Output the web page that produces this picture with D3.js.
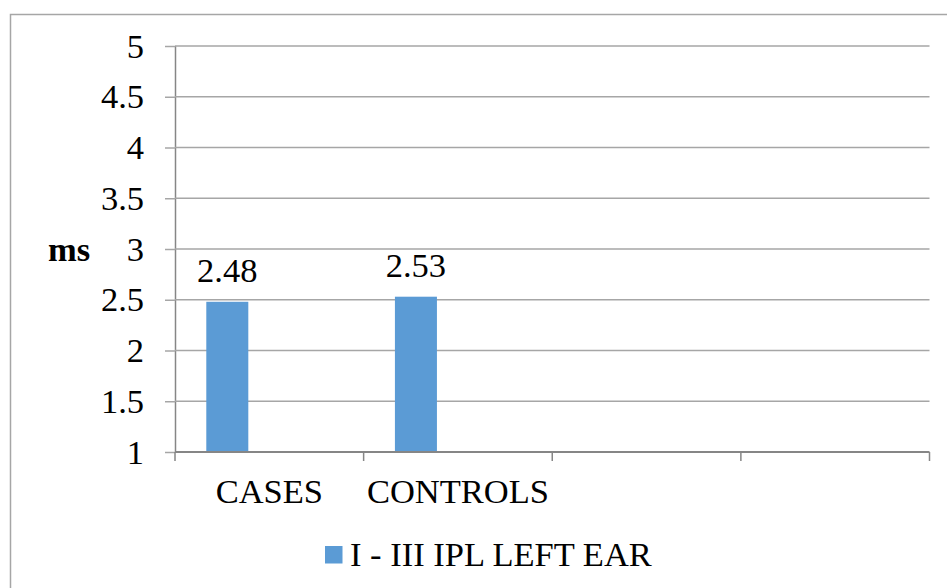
<!DOCTYPE html>
<html>
<head>
<meta charset="utf-8">
<script src="https://cdn.jsdelivr.net/npm/d3@7"></script>
<style>
  html, body { margin: 0; padding: 0; background: #fff; }
  svg { display: block; }
  text { font-family: "Liberation Serif", "Times New Roman", serif; fill: #000; }
</style>
</head>
<body>
<svg id="chart" width="947" height="588"></svg>
<script>
// Chart data
const categories = ["CASES", "CONTROLS", "", ""];
const seriesName = "I - III IPL LEFT EAR";
const seriesValues = [2.48, 2.53, null, null];
const yTicks = [1, 1.5, 2, 2.5, 3, 3.5, 4, 4.5, 5];
const yLabel = "ms";

const W = 947, H = 588;
const plot = { left: 175, right: 929.5, top: 46, bottom: 452 };
const barColor = "#5b9bd5";
const gridColor = "#a6a6a6";
const axisColor = "#868686";
const fontSize = 34.5;
const serif = "'Liberation Serif', 'Times New Roman', serif";

const svg = d3.select("#chart");

// Outer chart frame
svg.append("rect")
  .attr("x", 10.5).attr("y", 14.5)
  .attr("width", 960).attr("height", 600)
  .attr("fill", "#fff")
  .attr("stroke", gridColor).attr("stroke-width", 1.5);

const x = d3.scaleBand()
  .domain(d3.range(categories.length))
  .range([plot.left, plot.right])
  .padding(0);

// Each category holds a cluster of three slots; the series uses the first
const slot = d3.scaleBand()
  .domain([0, 1, 2])
  .range([0, x.bandwidth()])
  .paddingInner(0)
  .paddingOuter(0.745);

const y = d3.scaleLinear().domain([1, 5]).range([plot.bottom, plot.top]);

// Y axis with tick marks
const yAxis = d3.axisLeft(y)
  .tickValues(yTicks)
  .tickSize(10)
  .tickFormat(d3.format("~g"));

const gy = svg.append("g")
  .attr("transform", `translate(${plot.left},0)`)
  .call(yAxis);
gy.select(".domain").attr("stroke", axisColor).attr("stroke-width", 1.5)
  .attr("d", `M0.5,${plot.top}V${plot.bottom}`);
gy.selectAll(".tick line").attr("stroke", gridColor).attr("stroke-width", 1.5);
gy.selectAll(".tick text")
  .attr("x", -31)
  .attr("dy", null)
  .attr("y", 11)
  .style("font-size", fontSize + "px")
  .style("font-family", serif)
  .attr("fill", "#000");

// Horizontal gridlines
svg.append("g")
  .selectAll("line")
  .data(yTicks.filter(t => t > 1))
  .join("line")
  .attr("x1", plot.left).attr("x2", plot.right)
  .attr("y1", d => y(d)).attr("y2", d => y(d))
  .attr("stroke", gridColor).attr("stroke-width", 1.5);

// Bars
const barData = seriesValues.map((v, i) => ({ i, v })).filter(d => d.v != null);
svg.append("g")
  .selectAll("rect")
  .data(barData)
  .join("rect")
  .attr("x", d => x(d.i) + slot(0))
  .attr("width", slot.bandwidth())
  .attr("y", d => y(d.v))
  .attr("height", d => y(1) - y(d.v))
  .attr("fill", barColor);

// Value labels
svg.append("g")
  .selectAll("text")
  .data(barData)
  .join("text")
  .attr("x", d => x(d.i) + slot(0) + slot.bandwidth() / 2)
  .attr("y", d => y(d.v) - 20)
  .attr("text-anchor", "middle")
  .style("font-size", fontSize + "px")
  .style("font-family", serif)
  .text(d => d3.format(".2f")(d.v));

// X axis (baseline with category dividers)
const xAxis = d3.axisBottom(x)
  .tickSize(0)
  .tickFormat(i => categories[i]);
const gx = svg.append("g")
  .attr("transform", `translate(0,${plot.bottom})`)
  .call(xAxis);
gx.select(".domain").attr("stroke", axisColor).attr("stroke-width", 2)
  .attr("d", `M${plot.left},0H${plot.right}`);
gx.selectAll(".tick text")
  .attr("y", 51)
  .attr("dy", null)
  .style("font-size", fontSize + "px")
  .style("font-family", serif)
  .attr("fill", "#000");

const dividers = d3.range(categories.length + 1).map(i =>
  i < categories.length ? x(i) : plot.right);
gx.append("g")
  .selectAll("line")
  .data(dividers)
  .join("line")
  .attr("x1", d => d).attr("x2", d => d)
  .attr("y1", 0).attr("y2", 9)
  .attr("stroke", axisColor).attr("stroke-width", 1.5);

// Y axis title
svg.append("text")
  .attr("x", 48).attr("y", 261)
  .style("font-size", fontSize + "px")
  .style("font-family", serif)
  .style("font-weight", "bold")
  .text(yLabel);

// Legend
const legend = svg.append("g").attr("transform", "translate(325,546)");
legend.append("rect")
  .attr("width", 17.5).attr("height", 17.5)
  .attr("fill", barColor);
legend.append("text")
  .attr("x", 25).attr("y", 19.7)
  .style("font-size", fontSize + "px")
  .style("font-family", serif)
  .text(seriesName);
</script>
</body>
</html>
